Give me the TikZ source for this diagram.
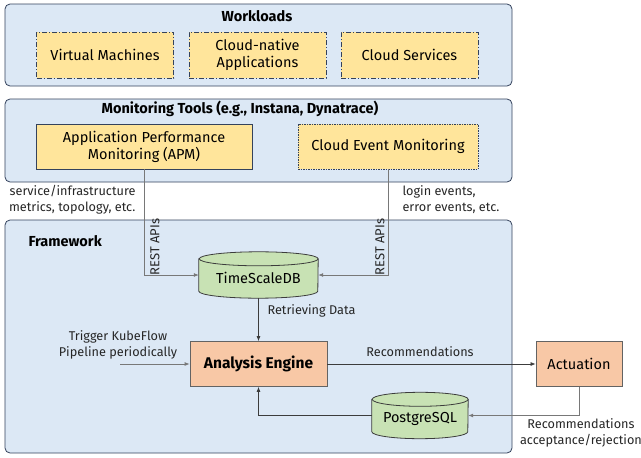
\documentclass[tikz,border=0pt]{standalone}
\usepackage{fontspec}
\setmainfont{Fira Sans}
\usetikzlibrary{arrows.meta}
\definecolor{panelfill}{RGB}{220,232,245}
\definecolor{paneldraw}{RGB}{52,66,92}
\definecolor{yellowfill}{RGB}{255,229,155}
\definecolor{greenfill}{RGB}{200,226,180}
\definecolor{orangefill}{RGB}{248,200,166}
\definecolor{linegray}{RGB}{120,120,120}
\definecolor{linedark}{RGB}{60,60,60}
\tikzset{
  panel/.style={draw=paneldraw, fill=panelfill, rounded corners=5pt, line width=0.8pt},
  panetitle/.style={font=\fontsize{14.5}{17}\selectfont\bfseries},
  wlbox/.style={draw=paneldraw, fill=yellowfill, line width=0.8pt,
    dash pattern=on 5pt off 2pt on 1pt off 2pt, minimum width=137pt, minimum height=46pt,
    align=center, font=\fontsize{14.5}{17}\selectfont, inner sep=0pt},
  monbox/.style={draw=paneldraw, fill=yellowfill, line width=0.8pt, minimum height=45pt,
    align=center, font=\fontsize{14.5}{17}\selectfont, inner sep=0pt},
  procbox/.style={draw=linedark!80, fill=orangefill, line width=0.8pt, minimum height=45pt,
    align=center, font=\fontsize{14.5}{17}\selectfont, inner sep=0pt},
  dbspot/.style={minimum height=46pt, inner sep=0pt, font=\fontsize{14.5}{17}\selectfont},
  dbbody/.style={draw=linedark, fill=greenfill, line width=0.8pt},
  note/.style={font=\fontsize{12.7}{16}\selectfont, align=center, text=black!85},
  restlbl/.style={font=\fontsize{13}{15}\selectfont, rotate=90, text=black!85},
  flow/.style={draw=linedark, line width=0.7pt, -{Latex[length=5pt,width=4pt]}},
  feed/.style={draw=linegray, line width=0.8pt, -{Latex[length=5pt,width=4pt]}},
}
\begin{document}
\begin{tikzpicture}[x=1pt, y=1pt]
\useasboundingbox (0,0) rectangle (641,-458);

% --- Workloads layer
\draw[panel] (5,-4) rectangle (512,-86);
\node[panetitle] (wltitle) at (257,-16) {Workloads};
\node[wlbox] (vm)  at (105,-55)   {Virtual Machines};
\node[wlbox] (cna) at (257.5,-55) {Cloud-native\\Applications};
\node[wlbox] (cs)  at (409.5,-55) {Cloud Services};

% --- Monitoring layer
\draw[panel] (5,-99) rectangle (512,-182);
\node[panetitle] (montitle) at (240,-109) {Monitoring Tools (e.g., Instana, Dynatrace)};
\node[monbox, minimum width=216pt] (apm) at (144,-146.5) {Application Performance\\Monitoring (APM)};
\node[monbox, minimum width=180pt, dash pattern=on 1.5pt off 1pt] (cem) at (388,-146.5) {Cloud Event Monitoring};

\node[note, align=right, anchor=east] (svclbl) at (139,-200) {service/infrastructure\\metrics, topology, etc.};
\node[note, align=left, anchor=west] (evtlbl) at (399,-200) {login events,\\error events, etc.};

% --- Framework layer
\draw[panel] (5,-220) rectangle (512,-453);
\node[panetitle, anchor=west] (fwtitle) at (25,-241) {Framework};

% TimeScaleDB cylinder
\node[dbspot, minimum width=119pt] (tsdb) at (258.5,-275) {};
\filldraw[dbbody] ([yshift=-7pt]tsdb.north west) -- ([yshift=7pt]tsdb.south west)
  arc[start angle=180, end angle=360, x radius=59.5pt, y radius=7pt]
  -- ([yshift=-7pt]tsdb.north east)
  arc[start angle=0, end angle=180, x radius=59.5pt, y radius=7pt] -- cycle;
\draw[dbbody, fill=none] ([yshift=-7pt]tsdb.north east)
  arc[start angle=0, end angle=-180, x radius=59.5pt, y radius=7pt];
\node[dbspot] (tsdbtxt) at ([yshift=-3pt]tsdb.center) {TimeScaleDB};

% Analysis engine and actuation
\node[procbox, minimum width=137pt, font=\fontsize{15.5}{18}\selectfont\bfseries] (ae) at (258.5,-364) {Analysis Engine};
\node[procbox, minimum width=86pt] (act) at (579,-364) {Actuation};

% PostgreSQL cylinder
\node[dbspot, minimum width=96pt] (pg) at (420,-415.5) {};
\filldraw[dbbody] ([yshift=-7pt]pg.north west) -- ([yshift=7pt]pg.south west)
  arc[start angle=180, end angle=360, x radius=48pt, y radius=7pt]
  -- ([yshift=-7pt]pg.north east)
  arc[start angle=0, end angle=180, x radius=48pt, y radius=7pt] -- cycle;
\draw[dbbody, fill=none] ([yshift=-7pt]pg.north east)
  arc[start angle=0, end angle=-180, x radius=48pt, y radius=7pt];
\node[dbspot] (pgtxt) at ([yshift=-3pt]pg.center) {PostgreSQL};

% --- Connectors
\path[feed] (apm.south) |- (tsdb.west);
\path[feed] (cem.south) |- (tsdb.east);
\node[restlbl] (rest1) at (155,-247) {REST APIs};
\node[restlbl] (rest2) at (380,-247) {REST APIs};

\path[flow] (tsdb.south) -- (ae.north);
\node[note, anchor=west] (retlbl) at (264,-311) {Retrieving Data};

\coordinate (trig) at (120,-364);
\path[feed] (trig) -- (ae.west);
\node[note] (triglbl) at (118,-345) {Trigger KubeFlow\\Pipeline periodically};

\path[flow] (ae.east) -- (act.west);
\node[note] (reclbl) at (420,-352) {Recommendations};

\path[feed] (act.south) |- (pg.east);
\node[note] (acclbl) at (581,-433) {Recommendations\\acceptance/rejection};

\path[flow] (pg.west) -| (ae.south);
\end{tikzpicture}
\end{document}
